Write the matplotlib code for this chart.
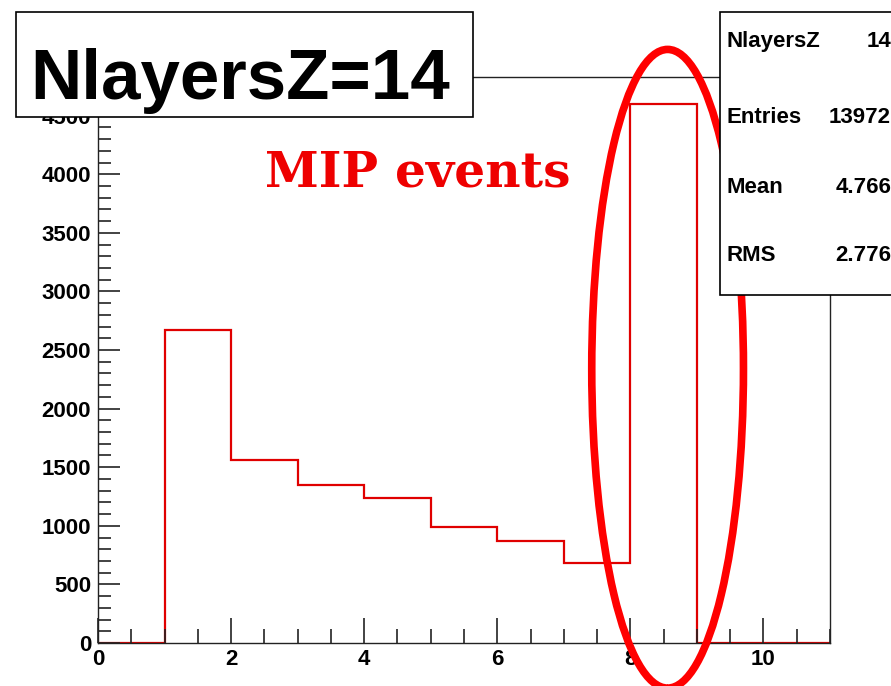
import numpy as np
import matplotlib
matplotlib.use("Agg")
import matplotlib.pyplot as plt
from matplotlib.patches import Rectangle, Ellipse
from matplotlib.ticker import MultipleLocator

# histogram contents (bins of width 1 from 0 to 11)
bin_edges = [0, 1, 2, 3, 4, 5, 6, 7, 8, 9, 10, 11]
counts = [0, 2667, 1564, 1350, 1239, 991, 872, 684, 4598, 0, 0]

stat_labels = ["NlayersZ", "Entries", "Mean", "RMS"]
stat_values = ["14", "13972", "4.766", "2.776"]
title = "NlayersZ=14"

plt.rcParams['font.family'] = ['Liberation Sans', 'DejaVu Sans']

fig = plt.figure(figsize=(8.91, 6.86), dpi=100)
ax = fig.add_axes([0.110, 0.0627, 0.8215, 0.8251])

ax.stairs(counts, bin_edges, color="#e00000", linewidth=1.6, baseline=0)
ax.set_xlim(0, 11)
ax.set_ylim(0, 4830)

ax.xaxis.set_major_locator(MultipleLocator(2))
ax.xaxis.set_minor_locator(MultipleLocator(0.5))
ax.yaxis.set_major_locator(MultipleLocator(500))
ax.yaxis.set_minor_locator(MultipleLocator(100))
ax.tick_params(which="both", direction="in", top=False, right=False, width=1.2, colors="#222222")
ax.tick_params(which="major", axis="y", length=16)
ax.tick_params(which="minor", axis="y", length=9)
ax.tick_params(which="major", axis="x", length=18)
ax.tick_params(which="minor", axis="x", length=10)
ax.tick_params(axis="both", labelsize=16, labelcolor="black")
ax.tick_params(axis="y", pad=5)
ax.tick_params(axis="x", pad=4)
for lab in ax.get_xticklabels() + ax.get_yticklabels():
    lab.set_fontweight("bold")
for sp in ax.spines.values():
    sp.set_linewidth(1.0)
    sp.set_color("#222222")

# red ellipse around the MIP peak
ell = Ellipse((8.56, 2340), width=2.28, height=5450, fill=False,
              edgecolor="#ff0000", linewidth=5.5, clip_on=False, zorder=5)
ax.add_patch(ell)

ax.text(0.4365, 0.830, "MIP events", transform=ax.transAxes, ha="center", va="center",
        color="#ee0000", fontsize=35, fontweight="bold", family="DejaVu Serif")

# title box
fig.patches.append(Rectangle((0.018, 0.829), 0.513, 0.1535, transform=fig.transFigure,
                             facecolor="white", edgecolor="black", linewidth=1.2, zorder=10))
fig.text(0.270, 0.856, title, ha="center", va="baseline", fontsize=51,
         fontweight="bold", zorder=11)

# stats box
fig.patches.append(Rectangle((0.808, 0.570), 0.25, 0.4125, transform=fig.transFigure,
                             facecolor="white", edgecolor="black", linewidth=1.2, zorder=10))
row_y = [0.939, 0.829, 0.726, 0.627]
for lab, val, y in zip(stat_labels, stat_values, row_y):
    fig.text(0.815, y, lab, ha="left", va="center", fontsize=16, fontweight="bold", zorder=11)
    fig.text(1.0, y, val, ha="right", va="center", fontsize=16, fontweight="bold", zorder=11)

fig.savefig("out.png", dpi=100)
